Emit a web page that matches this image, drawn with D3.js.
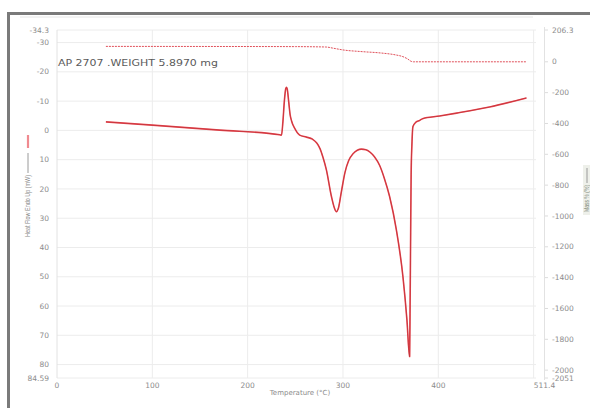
<!DOCTYPE html>
<html><head><meta charset="utf-8">
<script src="https://cdn.jsdelivr.net/npm/d3@7"></script>
<style>body{margin:0;background:#fff}svg{display:block}</style>
</head><body><svg id="c" width="590" height="408"></svg>
<script>
// ---- data ----
const xTicks = [0, 100, 200, 300, 400, 511.4];
const leftTicks = [-34.3, -30, -20, -10, 0, 10, 20, 30, 40, 50, 60, 70, 80, 84.59];
const rightTicks = [206.3, 0, -200, -400, -600, -800, -1000, -1200, -1400, -1600, -1800, -2000, -2051];
const gridX = [100, 200, 300, 400, 500];
const gridY = [-30, -20, -10, 0, 10, 20, 30, 40, 50, 60, 70, 80];

const hfTemp  = [51.3, 100, 170.8, 233.7, 235.5, 237.0, 238.5, 240.0, 240.7, 241.5, 243.0, 244.5, 246.0, 249.4, 254.6, 261.7, 268.0, 272.5, 276.0, 279.0, 282.6, 287.9, 291.0, 293.1, 295.0, 298.3, 302.0, 306.0, 310.5, 315.0, 319.3, 324.0, 328.0, 333.0, 338.5, 343.5, 348.9, 356.0, 362.9, 367.1, 369.9, 370.4, 371.0, 371.5, 372.3, 373.4, 376.5, 380.4, 383.5, 401.3, 419.2, 453.7, 492.5];
const hfValue = [-2.9, -1.8, -0.1, 1.5, 1.6, -3.0, -10.0, -14.3, -14.7, -14.2, -10.0, -5.5, -3.3, -0.7, 1.6, 2.3, 3.0, 4.3, 6.3, 9.2, 13.5, 22.6, 26.5, 27.8, 26.8, 21.0, 14.5, 10.3, 8.0, 6.8, 6.4, 6.6, 7.3, 9.0, 12.0, 16.5, 22.6, 34.0, 50.0, 64.8, 77.3, 60.0, 35.0, 15.0, 5.0, -1.3, -2.8, -3.4, -4.0, -4.9, -5.9, -8.0, -11.1];

const massTemp  = [51.3, 150, 250, 282, 290, 300, 320, 340, 355, 363, 368, 371.5, 374, 492.5];
const massValue = [100, 99.5, 98.5, 96, 88, 77, 66, 57, 45, 33, 18, 3, 0, 0];

// ---- layout ----
const svg = d3.select('#c');
const x = d3.scaleLinear().domain([xTicks[0], xTicks[xTicks.length-1]]).range([57, 544.5]);
const yL = d3.scaleLinear().domain([leftTicks[0], leftTicks[leftTicks.length-1]]).range([30, 378]);
const yR = d3.scaleLinear().domain([rightTicks[0], rightTicks[rightTicks.length-1]]).range([30, 378]);

// frame
svg.append('rect').attr('x',0).attr('y',0).attr('width',590).attr('height',408).attr('fill','#fff');
svg.append('line').attr('x1',20).attr('x2',533).attr('y1',17).attr('y2',17).attr('stroke','#e6e6e6');
svg.append('line').attr('x1',7).attr('x2',590).attr('y1',13.5).attr('y2',13.5).attr('stroke','#7a7a7a').attr('stroke-width',3);
svg.append('line').attr('x1',8.5).attr('x2',8.5).attr('y1',12).attr('y2',408).attr('stroke','#7a7a7a').attr('stroke-width',3);

// grid
const g = svg.append('g');
g.selectAll('.gx').data(gridX).join('line')
  .attr('x1', d=>x(d)).attr('x2', d=>x(d)).attr('y1', 30).attr('y2', 378)
  .attr('stroke', '#ececec').attr('stroke-width', 1);
g.selectAll('.gy').data(gridY.concat([leftTicks[0], leftTicks[leftTicks.length-1]])).join('line')
  .attr('x1', 57).attr('x2', 536).attr('y1', d=>yL(d)).attr('y2', d=>yL(d))
  .attr('stroke', '#ececec').attr('stroke-width', 1);
// axis lines
svg.append('line').attr('x1',57).attr('x2',57).attr('y1',30).attr('y2',378).attr('stroke','#e2e2e2');
svg.append('line').attr('x1',x(xTicks[xTicks.length-1])).attr('x2',x(xTicks[xTicks.length-1])).attr('y1',27).attr('y2',380).attr('stroke','#e2e2e2');

// ticks labels
const tickFont = {family:'DejaVu Sans', size:'7.5px', fill:'#8c8c8c'};
const lab = (sel) => sel.attr('font-family', tickFont.family).attr('font-size', tickFont.size).attr('fill', tickFont.fill);
const fmtL = d => (d < 0 ? '-' : '') + Math.abs(d);
svg.append('g').selectAll('text').data(leftTicks).join('text')
  .attr('x', 49).attr('y', d=>yL(d)).attr('dy','0.35em').attr('text-anchor','end')
  .text(fmtL).call(lab);
const axR = svg.append('g');
axR.selectAll('text').data(rightTicks).join('text')
  .attr('x', 552).attr('y', d=>yR(d)).attr('dy','0.35em').attr('text-anchor','start')
  .text(fmtL).call(lab);
axR.selectAll('line').data(rightTicks).join('line')
  .attr('x1', 545).attr('x2', 548).attr('y1', d=>yR(d)).attr('y2', d=>yR(d)).attr('stroke','#dcdcdc');
svg.append('g').selectAll('text').data(xTicks).join('text')
  .attr('x', d=>x(d)).attr('y', 385).attr('dy','0.35em').attr('text-anchor','middle')
  .text(d=>d).call(lab);

// axis titles
svg.append('text').attr('x', 300).attr('y', 393).attr('dy','0.35em').attr('text-anchor','middle')
  .attr('font-family','DejaVu Sans').attr('font-size','7px').attr('fill','#8c8c8c').text('Temperature (°C)');

// left title with legend swatch
const lt = svg.append('g').attr('transform','translate(28,237) rotate(-90)');
lt.append('text').attr('x',0).attr('y',0).attr('dy','0.35em')
  .attr('font-family','Liberation Sans').attr('font-size','7px').attr('fill','#8a8a8a')
  .attr('textLength',62).attr('lengthAdjust','spacingAndGlyphs').text('Heat Flow Endo Up (mW)');
lt.append('line').attr('x1',64).attr('x2',84).attr('y1',0).attr('y2',0).attr('stroke','#9a9a9a').attr('stroke-width',1);
lt.append('line').attr('x1',89).attr('x2',102).attr('y1',0).attr('y2',0).attr('stroke','#f08a90').attr('stroke-width',2.2);

// right title
svg.append('rect').attr('x',583).attr('y',165).attr('width',8).attr('height',50).attr('fill','#eef0ea');
const rt = svg.append('g').attr('transform','translate(587,212) rotate(-90)');
rt.append('text').attr('x',0).attr('y',0).attr('dy','0.35em')
  .attr('font-family','Liberation Sans').attr('font-size','6.5px').attr('fill','#7f8a7a')
  .attr('textLength',27).attr('lengthAdjust','spacingAndGlyphs').text('Mass % (%)');
rt.append('line').attr('x1',29).attr('x2',44).attr('y1',0).attr('y2',0).attr('stroke','#9a9a9a');

// sample label
svg.append('text').attr('x', 58).attr('y', 63).attr('dy','0.35em')
  .attr('font-family','DejaVu Sans').attr('font-size','9px').attr('fill','#5a5a5a')
  .attr('textLength',160).attr('lengthAdjust','spacingAndGlyphs').text('AP 2707 .WEIGHT 5.8970 mg');

// mass line (dashed, right axis)
const massData = massTemp.map((t,i)=>[t, massValue[i]]);
svg.append('path').datum(massData)
  .attr('d', d3.line().x(d=>x(d[0])).y(d=>yR(d[1])).curve(d3.curveMonotoneX))
  .attr('fill','none').attr('stroke','#e0505a').attr('stroke-width',1).attr('stroke-dasharray','2,1');

// heat flow line (left axis)
const hfData = hfTemp.map((t,i)=>[t, hfValue[i]]);
const hfLine = d3.line().x(d=>x(d[0])).y(d=>yL(d[1])).curve(d3.curveMonotoneX);
svg.append('path').datum(hfData).attr('d', hfLine)
  .attr('fill','none').attr('stroke','#ec4a52').attr('stroke-width',1.6).attr('stroke-linejoin','round');
svg.append('path').datum(hfData).attr('d', hfLine)
  .attr('fill','none').attr('stroke','#a8242c').attr('stroke-width',0.5).attr('stroke-linejoin','round');
</script></body></html>
